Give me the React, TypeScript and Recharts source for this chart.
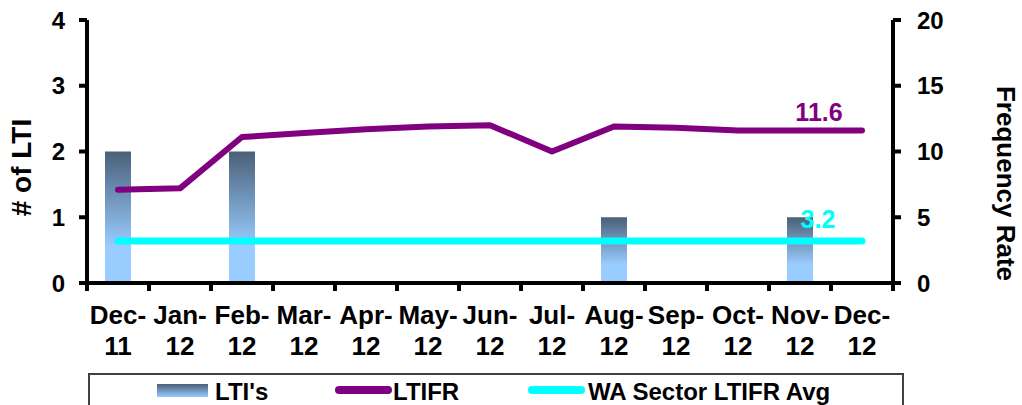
import React from "react";
import {
  ComposedChart,
  Bar,
  Line,
  XAxis,
  YAxis,
  LabelList,
  Label,
  ReferenceLine,
} from "recharts";

const months = [
  "Dec-11", "Jan-12", "Feb-12", "Mar-12", "Apr-12", "May-12", "Jun-12",
  "Jul-12", "Aug-12", "Sep-12", "Oct-12", "Nov-12", "Dec-12",
];
const ltis = [2, 0, 2, 0, 0, 0, 0, 0, 1, 0, 0, 1, 0];
const ltifr = [7.1, 7.2, 11.1, 11.4, 11.7, 11.9, 12.0, 10.0, 11.9, 11.8, 11.6, 11.6, 11.6];
const waAvg = [3.2, 3.2, 3.2, 3.2, 3.2, 3.2, 3.2, 3.2, 3.2, 3.2, 3.2, 3.2, 3.2];
const leftTicks = [0, 1, 2, 3, 4];
const rightTicks = [0, 5, 10, 15, 20];

const data = months.map((m, i) => ({
  month: m,
  ltis: ltis[i],
  ltifr: ltifr[i],
  wa: waAvg[i],
}));

const FONT = '"Liberation Sans", Arial, sans-serif';
const PURPLE = "#800080";
const CYAN = "#00FFFF";

const XTick = (props: any) => {
  const { x, y, payload, index } = props;
  const parts = String(payload.value).split("-");
  const half = payload.offset || 0;
  const last = index === months.length - 1;
  return (
    <g>
      <line x1={x - half} x2={x - half} y1={y - 8} y2={y} stroke="#000" strokeWidth={4} />
      {last && (
        <line x1={x + half} x2={x + half} y1={y - 8} y2={y} stroke="#000" strokeWidth={4} />
      )}
      <text
        x={x}
        y={y}
        textAnchor="middle"
        fontFamily={FONT}
        fontWeight="bold"
        fontSize={26}
        fill="#000"
        stroke="none"
      >
        <tspan x={x} dy={33}>{parts[0] + "-"}</tspan>
        <tspan x={x} dy={31}>{parts[1]}</tspan>
      </text>
    </g>
  );
};

const makeEndLabel = (color: string, dx: number, dy: number) => (p: any) => {
  if (p.index !== months.length - 1) return null;
  return (
    <text
      x={p.x + dx}
      y={p.y + dy}
      textAnchor="middle"
      fontFamily={FONT}
      fontWeight="bold"
      fontSize={25}
      fill={color}
    >
      {p.value}
    </text>
  );
};

const Legend2 = () => (
  <div
    style={{
      position: "absolute",
      left: 88,
      top: 373,
      width: 812,
      height: 40,
      borderTop: "2px solid #404040",
      borderLeft: "2px solid #404040",
      borderRight: "2px solid #404040",
      fontFamily: FONT,
      fontWeight: "bold",
      fontSize: 24,
      color: "#000",
    }}
  >
    <div
      style={{
        position: "absolute",
        left: 67,
        top: 9,
        width: 51,
        height: 13,
        background: "linear-gradient(to bottom, #4a6078, #99ccff)",
      }}
    />
    <div style={{ position: "absolute", left: 125, top: 3, lineHeight: "28px" }}>LTI's</div>
    <div
      style={{
        position: "absolute",
        left: 245,
        top: 11,
        width: 57,
        height: 8,
        borderRadius: 4,
        background: PURPLE,
      }}
    />
    <div style={{ position: "absolute", left: 303, top: 3, lineHeight: "28px" }}>LTIFR</div>
    <div
      style={{
        position: "absolute",
        left: 438,
        top: 11,
        width: 57,
        height: 8,
        borderRadius: 4,
        background: CYAN,
      }}
    />
    <div style={{ position: "absolute", left: 498, top: 3, lineHeight: "28px", whiteSpace: "nowrap" }}>
      WA Sector LTIFR Avg
    </div>
  </div>
);

export default function App() {
  const tickStyle = { fontFamily: FONT, fontWeight: "bold", fontSize: 24, fill: "#000", stroke: "none" } as any;
  const axisLineStyle = { stroke: "#000", strokeWidth: 4 };
  return (
    <div
      style={{
        position: "absolute",
        left: 0,
        top: 0,
        width: 1022,
        height: 405,
        overflow: "hidden",
        background: "#fff",
      }}
    >
      <ComposedChart
        width={1022}
        height={405}
        data={data}
        margin={{ top: 20, right: 0, left: 0, bottom: 0 }}
      >
        <defs>
          <linearGradient id="barGrad" x1="0" y1="0" x2="0" y2="1">
            <stop offset="0%" stopColor="#4a6078" />
            <stop offset="72%" stopColor="#99ccff" />
            <stop offset="100%" stopColor="#99ccff" />
          </linearGradient>
        </defs>
        <Bar
          yAxisId="left"
          dataKey="ltis"
          fill="url(#barGrad)"
          barSize={26}
          isAnimationActive={false}
        />
        <Line
          yAxisId="right"
          dataKey="ltifr"
          stroke={PURPLE}
          strokeWidth={6}
          strokeLinecap="round"
          strokeLinejoin="round"
          dot={false}
          activeDot={false}
          isAnimationActive={false}
        >
          <LabelList dataKey="ltifr" content={makeEndLabel(PURPLE, -43, -9)} />
        </Line>
        <Line
          yAxisId="right"
          dataKey="wa"
          stroke={CYAN}
          strokeWidth={7}
          strokeLinecap="round"
          dot={false}
          activeDot={false}
          isAnimationActive={false}
        >
          <LabelList dataKey="wa" content={makeEndLabel(CYAN, -44, -13)} />
        </Line>
        <XAxis
          dataKey="month"
          height={122}
          interval={0}
          stroke="#000"
          axisLine={axisLineStyle}
          tickLine={false}
          tickSize={8}
          tickMargin={0}
          tick={<XTick />}
        />
        <YAxis
          yAxisId="left"
          orientation="left"
          width={87}
          domain={[0, 4]}
          ticks={leftTicks}
          interval={0}
          stroke="#000"
          axisLine={axisLineStyle}
          tickLine={axisLineStyle}
          tickSize={8}
          tickMargin={14}
          tick={tickStyle}
        >
          <Label
            content={(p: any) => {
              const vb = p.viewBox;
              const cx = vb.x + 21;
              const cy = vb.y + vb.height / 2 + 16;
              return (
                <text
                  x={cx}
                  y={cy}
                  transform={`rotate(-90 ${cx} ${cy})`}
                  textAnchor="middle"
                  dominantBaseline="central"
                  fontFamily={FONT}
                  fontWeight="bold"
                  fontSize={28}
                  fill="#000"
                  stroke="none"
                >
                  # of LTI
                </text>
              );
            }}
          />
        </YAxis>
        <YAxis
          yAxisId="right"
          orientation="right"
          width={129}
          domain={[0, 20]}
          ticks={rightTicks}
          interval={0}
          stroke="#000"
          axisLine={axisLineStyle}
          tickLine={axisLineStyle}
          tickSize={8}
          tickMargin={16}
          tick={tickStyle}
        >
          <Label
            content={(p: any) => {
              const vb = p.viewBox;
              const cx = vb.x + 113;
              const cy = vb.y + vb.height / 2 + 32;
              return (
                <text
                  x={cx}
                  y={cy}
                  transform={`rotate(90 ${cx} ${cy})`}
                  textAnchor="middle"
                  dominantBaseline="central"
                  fontFamily={FONT}
                  fontWeight="bold"
                  fontSize={26}
                  fill="#000"
                  stroke="none"
                >
                  Frequency Rate
                </text>
              );
            }}
          />
        </YAxis>
        <ReferenceLine yAxisId="left" y={0} stroke="#000" strokeWidth={4} />
        <ReferenceLine
          yAxisId="left"
          x={months[0]}
          position="start"
          stroke="#000"
          strokeWidth={4}
        />
        <ReferenceLine
          yAxisId="left"
          x={months[months.length - 1]}
          position="end"
          stroke="#000"
          strokeWidth={4}
        />
      </ComposedChart>
      <Legend2 />
    </div>
  );
}
